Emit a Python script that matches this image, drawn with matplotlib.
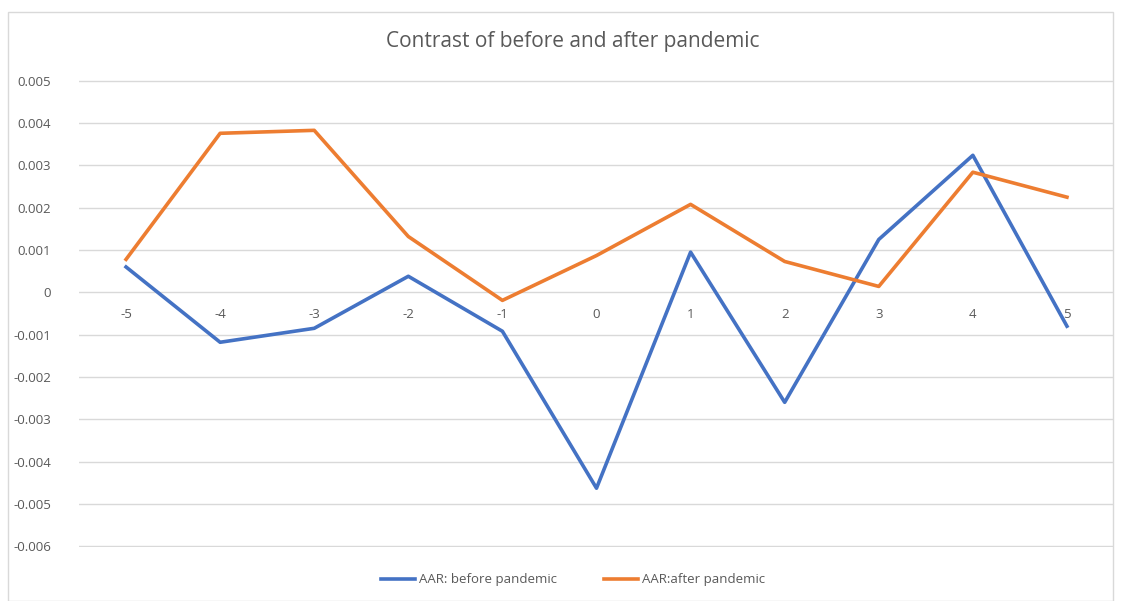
import matplotlib.pyplot as plt
from matplotlib.patches import Rectangle

# event days and average abnormal returns
days = ['-5', '-4', '-3', '-2', '-1', '0', '1', '2', '3', '4', '5']
aar_before = [0.0006, -0.00118, -0.00085, 0.00038, -0.00092, -0.00463,
              0.00095, -0.0026, 0.00125, 0.00324, -0.0008]
aar_after = [0.00078, 0.00376, 0.00383, 0.00132, -0.00019, 0.00087,
             0.00208, 0.00073, 0.00014, 0.00284, 0.00225]
yticks = [0.005, 0.004, 0.003, 0.002, 0.001, 0, -0.001, -0.002, -0.003,
          -0.004, -0.005, -0.006]
ylabels = ['0.005', '0.004', '0.003', '0.002', '0.001', '0', '-0.001',
           '-0.002', '-0.003', '-0.004', '-0.005', '-0.006']

plt.rcParams['font.family'] = ['Open Sans', 'DejaVu Sans']
txt = '#595959'
grid = '#d9d9d9'

fig = plt.figure(figsize=(11.21, 6.01), dpi=100)
fig.patches.append(Rectangle((8 / 1121, 0), 1 - 16 / 1121, 1 - 12 / 601,
                             transform=fig.transFigure, fill=False,
                             edgecolor=grid, linewidth=1))
ax = fig.add_axes([79 / 1121, 1 - 547 / 601, (1114 - 79) / 1121, (547 - 80) / 601])

x = list(range(len(days)))
ax.plot(x, aar_before, color='#4472c4', linewidth=2.6, label='AAR: before pandemic')
ax.plot(x, aar_after, color='#ed7d31', linewidth=2.6, label='AAR:after pandemic')

ax.set_xlim(-0.5, len(days) - 0.5)
ax.set_ylim(-0.006 - 0.00002, 0.005 + 0.00002)
ax.set_yticks(yticks)
ax.set_yticklabels(ylabels)
ax.yaxis.grid(True, color=grid, linewidth=1)
ax.set_axisbelow(True)
ax.tick_params(axis='y', length=0, labelsize=9.5, labelcolor=txt, pad=20)
for s in ax.spines.values():
    s.set_visible(False)

# category labels sit just under the zero line
ax.set_xticks([])
for i, d in enumerate(days):
    ax.annotate(d, (i, 0), xytext=(0, -16), textcoords='offset points',
                ha='center', va='center', fontsize=9.5, color=txt)

fig.text(573 / 1121, 1 - 42 / 601, 'Contrast of before and after pandemic',
         ha='center', va='center', fontsize=15, color=txt)
fig.legend(loc='center', bbox_to_anchor=(573 / 1121, 1 - 580 / 601), ncol=2,
           frameon=False, fontsize=9.5, labelcolor=txt, handlelength=2.6,
           handletextpad=0.3, columnspacing=3.5)

fig.savefig('out.png', dpi=100)
